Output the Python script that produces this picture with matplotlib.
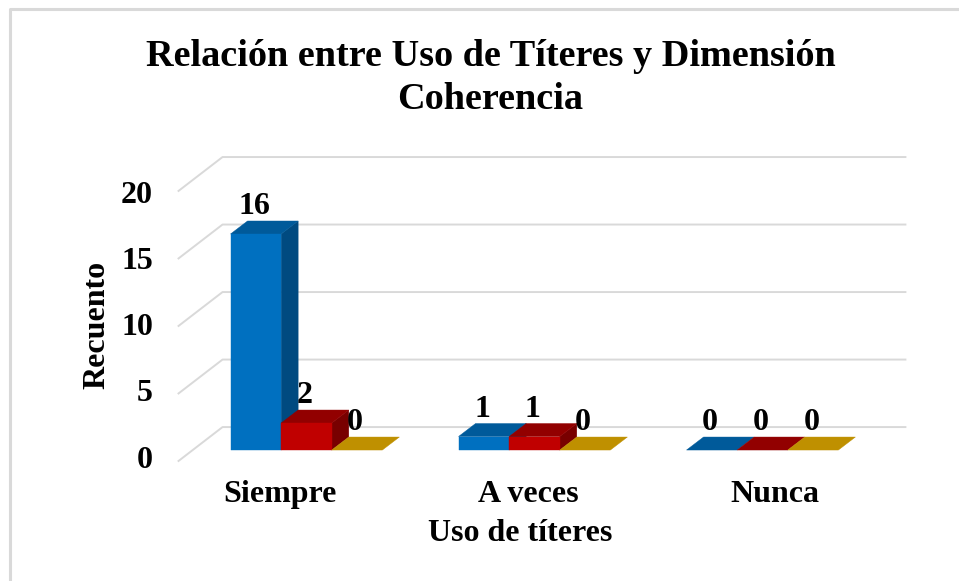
import matplotlib
matplotlib.use("Agg")
import matplotlib.pyplot as plt
from matplotlib.patches import Polygon

categories = ["Siempre", "A veces", "Nunca"]
series_1 = [16, 1, 0]
series_2 = [2, 1, 0]
series_3 = [0, 0, 0]
y_ticks = [0, 5, 10, 15, 20]

front_colors = ["#0070C0", "#C00000", "#BF9000"]
top_colors = ["#005A9A", "#920000", "#BF9000"]
side_colors = ["#004A80", "#780000", "#8F6C00"]

plt.rcParams["font.family"] = ["Liberation Serif", "DejaVu Serif"]
plt.rcParams["font.weight"] = "bold"

fig = plt.figure(figsize=(9.59, 5.81), dpi=100)
ax = fig.add_axes([0, 0, 1, 1])
# one x unit = one category, one y unit = one count
ax.set_xlim(-1.344, 2.862)
ax.set_ylim(-9.70, 33.33)
ax.axis("off")

bar_w = 0.222
bar_dx = 0.0746
bar_dy = 0.963
wall_x0, wall_x1 = -0.368, 2.627
front_x, front_y, back_y = -0.561, -0.81, 1.70

# frame of the picture, open at the right and bottom
ax.plot([-1.300, -1.300, 2.862], [-9.7, 32.7, 32.7], color="#D9D9D9", lw=2.2, zorder=1)

# grid on back wall and on the left side
for t in y_ticks:
    ax.plot([front_x, wall_x0, wall_x1], [front_y + t, back_y + t, back_y + t],
            color="#D9D9D9", lw=1.4, zorder=1)
    ax.text(-0.673, t * 0.98 - 0.75, str(t), ha="right", va="center", fontsize=23, zorder=5)


def draw_bar(x, val, j):
    x0 = x - bar_w / 2
    x1 = x + bar_w / 2
    top = [(x0, val), (x1, val), (x1 + bar_dx, val + bar_dy), (x0 + bar_dx, val + bar_dy)]
    side = [(x1, 0), (x1 + bar_dx, bar_dy), (x1 + bar_dx, val + bar_dy), (x1, val)]
    z = 2 + j
    if val > 0:
        ax.add_patch(Polygon(side, fc=side_colors[j], ec=side_colors[j], lw=0.3, zorder=z))
    ax.add_patch(Polygon(top, fc=top_colors[j], ec=top_colors[j], lw=0.3, zorder=z))
    if val > 0:
        ax.add_patch(Polygon([(x0, 0), (x1, 0), (x1, val), (x0, val)],
                             fc=front_colors[j], ec=front_colors[j], lw=0.3, zorder=z))
    ax.text(x - 0.008, val + bar_dy + 0.5, str(val), ha="center", va="baseline", fontsize=23, zorder=6)


for j, vals in enumerate([series_1, series_2, series_3]):
    for i, v in enumerate(vals):
        draw_bar(i + (j - 1) * bar_w, v, j)

# labels sit wider apart than the bars in the original
for c, lx in zip(categories, [-0.116, 0.971, 2.055]):
    ax.text(lx, -3.3, c, ha="center", va="center", fontsize=23)

ax.text(0.936, -6.15, "Uso de títeres", ha="center", va="center", fontsize=23)
ax.text(-0.92, 9.26, "Recuento", rotation=90, ha="center", va="center", fontsize=23)

ax.text(0.807, 29.15, "Relación entre Uso de Títeres y Dimensión", ha="center", va="center", fontsize=27.5)
ax.text(0.807, 25.96, "Coherencia", ha="center", va="center", fontsize=27.5)

fig.savefig("out.png", dpi=100)
